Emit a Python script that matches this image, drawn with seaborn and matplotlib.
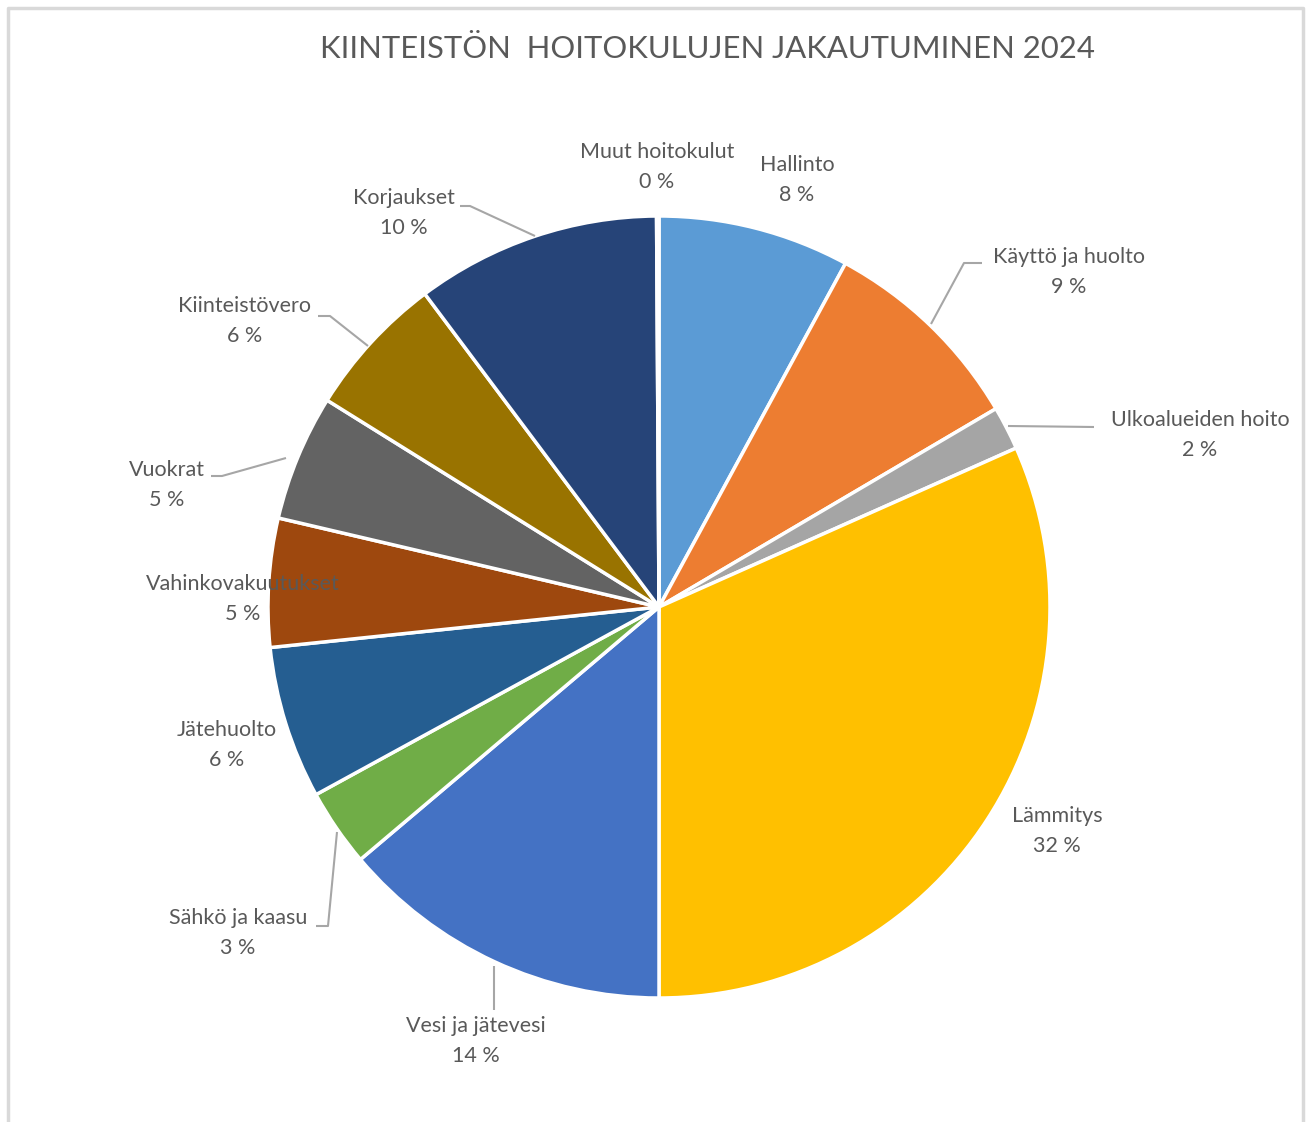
import matplotlib
matplotlib.use("Agg")
import matplotlib.pyplot as plt
import seaborn as sns

# data
categories = ["Hallinto", "Käyttö ja huolto", "Ulkoalueiden hoito", "Lämmitys",
              "Vesi ja jätevesi", "Sähkö ja kaasu", "Jätehuolto", "Vahinkovakuutukset",
              "Vuokrat", "Kiinteistövero", "Korjaukset", "Muut hoitokulut"]
shares = [7.9, 8.6, 1.8, 31.6, 13.8, 3.2, 6.3, 5.3, 5.2, 5.9, 10.1, 0.1]
colors = ["#5B9BD5", "#ED7D31", "#A5A5A5", "#FFC000", "#4472C4", "#70AD47",
          "#255E91", "#9E480E", "#636363", "#997300", "#264478", "#43682B"]
title = "KIINTEISTÖN  HOITOKULUJEN JAKAUTUMINEN 2024"

sns.set_theme(style="white")
plt.rcParams['font.family'] = ['Lato', 'DejaVu Sans']

W, H = 1311, 1122
fig = plt.figure(figsize=(W / 100, H / 100), dpi=100)
ax = fig.add_axes([0, 0, 1, 1])

def Y(py):
    return H - py

cx, cy, r = 659, 607, 391
ax.pie(shares, colors=colors, startangle=90, counterclock=False,
       center=(cx, Y(cy)), radius=r,
       wedgeprops=dict(edgecolor="white", linewidth=2.5))
ax.set_xlim(0, W)
ax.set_ylim(0, H)
ax.set_aspect("equal")
ax.set_axis_off()

# label layout (pixel positions)
label_pos = [(797, 180), (1069, 272), (1200, 435), (1057, 831), (476, 1041),
             (238, 933), (227, 745), (243, 599), (167, 485), (245, 321),
             (404, 213), (657, 167)]
leaders = {
    "Käyttö ja huolto": [(931, 324), (964, 263), (982, 263)],
    "Ulkoalueiden hoito": [(1008, 426), (1094, 427)],
    "Vesi ja jätevesi": [(494, 966), (494, 1010)],
    "Sähkö ja kaasu": [(337, 832), (328, 926), (316, 926)],
    "Vuokrat": [(286, 458), (222, 476), (211, 476)],
    "Kiinteistövero": [(368, 346), (330, 316), (318, 316)],
    "Korjaukset": [(535, 236), (470, 206), (460, 206)],
}

total = sum(shares)
for name, v, (px, py) in zip(categories, shares, label_pos):
    ax.text(px, Y(py), f"{name}\n{round(v / total * 100)} %", ha="center", va="center",
            ma="center", fontsize=15.5, color="#595959", linespacing=1.58, zorder=5)
    if name in leaders:
        pts = leaders[name]
        ax.plot([p[0] for p in pts], [Y(p[1]) for p in pts], color="#A6A6A6", lw=1.5,
                zorder=4, solid_capstyle="butt")

ax.text(707, Y(49), title, ha="center", va="center", fontsize=22.3, color="#595959")

# chart border
ax.plot([8, 8, 1303, 1303], [Y(1122), Y(8), Y(8), Y(1122)], color="#D9D9D9", lw=2.5,
        clip_on=False)

fig.savefig("out.png", dpi=100)
plt.close()
